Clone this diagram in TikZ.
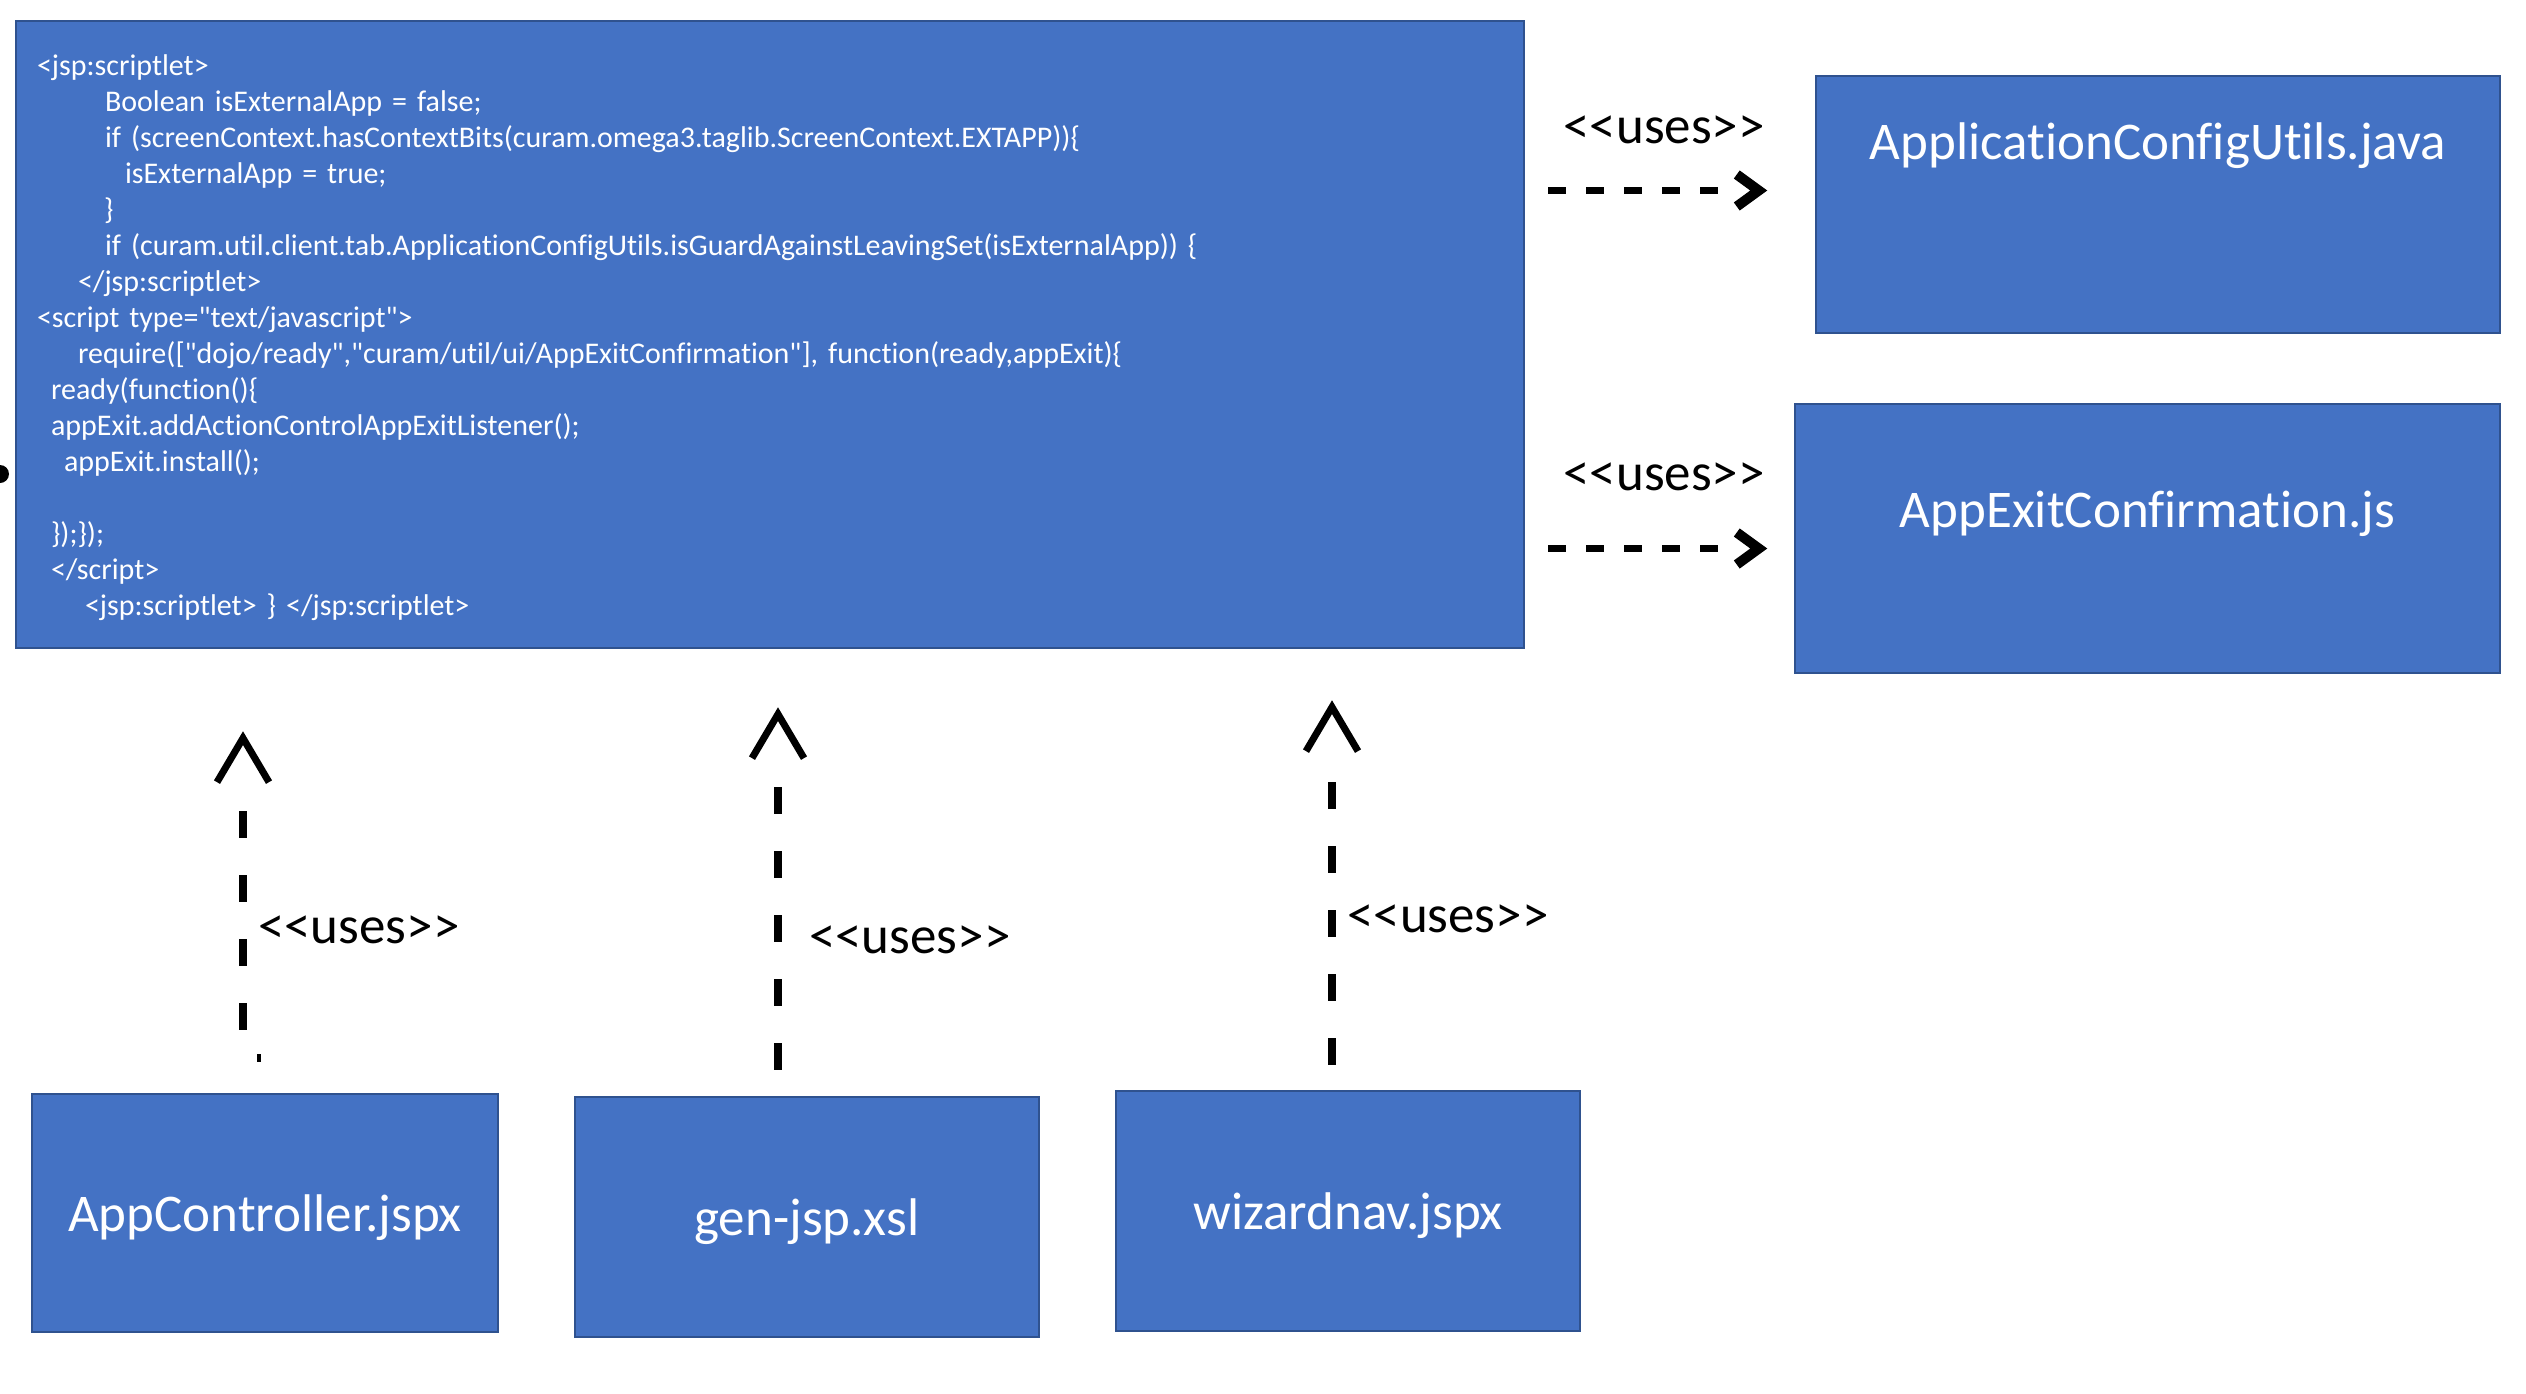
\documentclass[tikz,border=0pt]{standalone}
\usepackage{fontspec}
\newfontfamily\carl{Carlito}[Ligatures=NoCommon]
\usetikzlibrary{arrows.meta}
\definecolor{boxfill}{HTML}{4472C4}
\definecolor{boxline}{HTML}{2F528F}

\begin{document}
\begin{tikzpicture}[x=1pt,y=-1pt,
  block/.style={draw=boxline, fill=boxfill, line width=2.5pt, rectangle,
                inner sep=0pt},
  boxlabel/.style={text=white, font=\carl\fontsize{53}{64}\selectfont, inner sep=0pt},
  codetext/.style={text=white, font=\carl\fontsize{30}{36}\selectfont, align=left,
                   text width=1466pt, inner sep=0pt},
  useslabel/.style={font=\carl\fontsize{53}{64}\selectfont, inner sep=0pt},
  % five short dashes, then nothing up to the chevron
  huses/.style={line width=7pt,
                dash pattern=on 18pt off 20pt on 18pt off 20pt on 18pt off 20pt
                             on 18pt off 20pt on 18pt off 300pt},
  chevron/.style={line width=10pt, line join=miter, line cap=butt},
  vtip/.style={line width=8pt,
                -{Straight Barb[length=44pt,width=52pt,line width'=7pt,sharp]}},
  vuses four/.style={vtip,
                dash pattern=on 27pt off 37pt on 27pt off 37pt on 27pt off 37pt
                             on 27pt off 400pt},
  vuses five/.style={vtip,
                dash pattern=on 27pt off 37pt on 27pt off 37pt on 27pt off 37pt
                             on 27pt off 37pt on 27pt off 400pt}]
\useasboundingbox (0,0) rectangle (2526,1394);

% JSP fragment with the scriptlet code
\node[block, minimum width=1508pt, minimum height=627pt] (jsp) at (770,334.5) {};
\node[codetext] (code) at ([yshift=-3pt]jsp.center) {%
<jsp:scriptlet>\\
\hspace*{68pt}Boolean isExternalApp = false;\\
\hspace*{68pt}if (screenContext.hasContextBits(curam.omega3.taglib.ScreenContext.EXTAPP))\{\\
\hspace*{88pt}isExternalApp = true;\\
\hspace*{67pt}\}\\
\hspace*{68pt}if (curam.util.client.tab.ApplicationConfigUtils.isGuardAgainstLeavingSet(isExternalApp)) \{\\
\hspace*{41pt}</jsp:scriptlet>\\
<script type="text/javascript">\\
\hspace*{41pt}require(["dojo/ready","curam/util/ui/AppExitConfirmation"], function(ready,appExit)\{\\
\hspace*{14pt}ready(function()\{\\
\hspace*{14pt}appExit.addActionControlAppExitListener();\\
\hspace*{27pt}appExit.install();\\
\mbox{}\\
\hspace*{14pt}\});\});\\
\hspace*{14pt}</script>\\
\hspace*{48pt}<jsp:scriptlet> \} </jsp:scriptlet>};

% used resources on the right
\node[block, minimum width=684pt, minimum height=257pt] (acu) at (2158,204.5) {};
\node[boxlabel] (acuT) at ([yshift=59pt]acu.center) {ApplicationConfigUtils.java};
\node[block, minimum width=705pt, minimum height=269pt] (aec) at (2147.5,538.5) {};
\node[boxlabel] (aecT) at ([yshift=25pt]aec.center) {AppExitConfirmation.js};

% users of the fragment at the bottom
\node[block, minimum width=466pt, minimum height=238pt] (ctl) at (265,1213) {};
\node[boxlabel] (ctlT) at ([yshift=-5pt]ctl.center) {AppController.jspx};
\node[block, minimum width=464pt, minimum height=240pt] (gen) at (807,1217) {};
\node[boxlabel] (genT) at ([yshift=-5pt]gen.center) {gen-jsp.xsl};
\node[block, minimum width=464pt, minimum height=240pt] (wiz) at (1348,1211) {};
\node[boxlabel] (wizT) at ([yshift=-5pt]wiz.center) {wizardnav.jspx};

% horizontal dependencies: dashed shaft and an open chevron at its end
\coordinate (h1) at ([yshift=14pt]acu.west);
\coordinate (h2) at ([yshift=-10pt]aec.west);
\coordinate (h1tip) at ([xshift=-47pt]h1);
\coordinate (h2tip) at ([xshift=-26pt]h2);
\draw[huses, shorten <=23pt] (jsp.east |- h1) -- (h1tip);
\draw[huses, shorten <=23pt] (jsp.east |- h2) -- (h2tip);
\draw[chevron] ([xshift=-31pt,yshift=16pt]h1tip) -- ([xshift=-9pt]h1tip)
               -- ([xshift=-31pt,yshift=-16pt]h1tip);
\draw[chevron] ([xshift=-31pt,yshift=16pt]h2tip) -- ([xshift=-9pt]h2tip)
               -- ([xshift=-31pt,yshift=-16pt]h2tip);
\node[useslabel] (u1) at (1664,130) {<<uses>>};
\node[useslabel] (u2) at (1664,477) {<<uses>>};

% vertical dependencies
\coordinate (v1) at ([xshift=-22pt]ctl.north);
\coordinate (v2) at ([xshift=-29pt]gen.north);
\coordinate (v3) at ([xshift=-16pt]wiz.north);
\draw[vuses four, shorten <=63pt, shorten >=82pt] (v1) -- (v1 |- jsp.south);
\draw[vuses five, shorten <=26pt, shorten >=58pt] (v2) -- (v2 |- jsp.south);
\draw[vuses five, shorten <=25pt, shorten >=51pt] (v3) -- (v3 |- jsp.south);
\draw[line width=4pt] ([xshift=-6pt,yshift=31pt]ctl.north) -- ++(0,-8);
\node[useslabel, anchor=west] (u3) at (258,930) {<<uses>>};
\node[useslabel, anchor=west] (u4) at (809,940) {<<uses>>};
\node[useslabel, anchor=west] (u5) at (1347,919) {<<uses>>};

% stray mark on the left edge
\fill (0,474) circle[radius=9];
\end{tikzpicture}
\end{document}
